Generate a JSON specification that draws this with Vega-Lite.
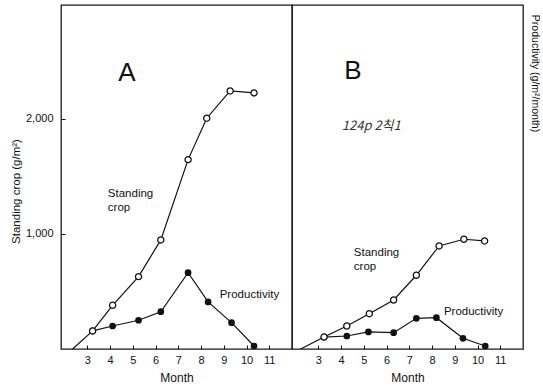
{
  "$schema": "https://vega.github.io/schema/vega-lite/v6.json",
  "padding": {"left": 9, "top": 4, "right": 0, "bottom": 0},
  "background": "white",
  "config": {
    "font": "Liberation Sans",
    "view": {"stroke": "#1a1a1a", "strokeWidth": 1.3},
    "axis": {"grid": false, "domain": false, "labelColor": "#111", "titleColor": "#111", "tickColor": "#111", "labelFont": "Liberation Sans", "titleFont": "Liberation Sans", "titleFontWeight": "normal"}
  },
  "bounds": "flush",
  "spacing": 0,
  "datasets": {
    "series": [
      {"panel": "A", "series": "crop", "month": 2.35, "value": 0},
      {"panel": "A", "series": "crop", "month": 3.23, "value": 157},
      {"panel": "A", "series": "crop", "month": 4.11, "value": 380},
      {"panel": "A", "series": "crop", "month": 5.25, "value": 629},
      {"panel": "A", "series": "crop", "month": 6.23, "value": 948},
      {"panel": "A", "series": "crop", "month": 7.43, "value": 1646},
      {"panel": "A", "series": "crop", "month": 8.25, "value": 2006},
      {"panel": "A", "series": "crop", "month": 9.28, "value": 2243},
      {"panel": "A", "series": "crop", "month": 10.33, "value": 2226},
      {"panel": "A", "series": "prod", "month": 3.23, "value": 157},
      {"panel": "A", "series": "prod", "month": 4.11, "value": 200},
      {"panel": "A", "series": "prod", "month": 5.25, "value": 250},
      {"panel": "A", "series": "prod", "month": 6.23, "value": 324},
      {"panel": "A", "series": "prod", "month": 7.43, "value": 663},
      {"panel": "A", "series": "prod", "month": 8.31, "value": 409},
      {"panel": "A", "series": "prod", "month": 9.34, "value": 229},
      {"panel": "A", "series": "prod", "month": 10.33, "value": 26},
      {"panel": "B", "series": "crop", "month": 2.22, "value": 0},
      {"panel": "B", "series": "crop", "month": 3.25, "value": 104},
      {"panel": "B", "series": "crop", "month": 4.25, "value": 200},
      {"panel": "B", "series": "crop", "month": 5.24, "value": 307},
      {"panel": "B", "series": "crop", "month": 6.31, "value": 426},
      {"panel": "B", "series": "crop", "month": 7.31, "value": 641},
      {"panel": "B", "series": "crop", "month": 8.31, "value": 896},
      {"panel": "B", "series": "crop", "month": 9.4, "value": 954},
      {"panel": "B", "series": "crop", "month": 10.31, "value": 939},
      {"panel": "B", "series": "prod", "month": 3.25, "value": 104},
      {"panel": "B", "series": "prod", "month": 4.25, "value": 113},
      {"panel": "B", "series": "prod", "month": 5.2, "value": 148},
      {"panel": "B", "series": "prod", "month": 6.31, "value": 142},
      {"panel": "B", "series": "prod", "month": 7.31, "value": 267},
      {"panel": "B", "series": "prod", "month": 8.19, "value": 272},
      {"panel": "B", "series": "prod", "month": 9.36, "value": 93},
      {"panel": "B", "series": "prod", "month": 10.34, "value": 26}
    ],
    "labels": [
      {"panel": "A", "kind": "big", "text": "A", "month": 4.74, "value": 2400},
      {"panel": "B", "kind": "big", "text": "B", "month": 4.52, "value": 2417},
      {"panel": "A", "kind": "label", "text": "Standing", "month": 3.9, "value": 1348},
      {"panel": "A", "kind": "label", "text": "crop", "month": 3.9, "value": 1226},
      {"panel": "A", "kind": "label", "text": "Productivity", "month": 8.82, "value": 470},
      {"panel": "B", "kind": "label", "text": "Standing", "month": 4.56, "value": 835},
      {"panel": "B", "kind": "label", "text": "crop", "month": 4.56, "value": 713},
      {"panel": "B", "kind": "label", "text": "Productivity", "month": 8.52, "value": 322},
      {"panel": "B", "kind": "note", "text": "124p 2칙1", "month": 4.03, "value": 1939}
    ]
  },
  "hconcat": [
    {
      "width": 231,
      "height": 344,
      "data": {"name": "series"},
      "transform": [{"filter": "datum.panel === 'A'"}],
      "encoding": {
        "x": {"field": "month", "type": "quantitative", "scale": {"domain": [1.84, 12], "nice": false, "zero": false},
              "axis": {"values": [3, 4, 5, 6, 7, 8, 9, 10, 11], "title": "Month", "offset": -4, "tickSize": 4, "labelPadding": 5, "labelFontSize": 11, "titleFontSize": 12, "titlePadding": 7}},
        "y": {"field": "value", "type": "quantitative", "scale": {"domain": [0, 2990], "nice": false},
              "axis": {"values": [1000, 2000], "format": ",d", "title": "Standing crop (g/m²)", "offset": -4, "tickSize": 4, "labelPadding": 8, "labelFontSize": 11, "titleFontSize": 11.5, "titleX": -49, "titleY": 186, "titleAlign": "center", "titleBaseline": "middle"}}
      },
      "layer": [
        {"mark": {"type": "line", "color": "#111", "strokeWidth": 1.2}, "encoding": {"detail": {"field": "series"}}},
        {"transform": [{"filter": "datum.series === 'prod'"}], "mark": {"type": "point", "shape": "circle", "filled": true, "color": "#111", "size": 45, "opacity": 1}},
        {"transform": [{"filter": "datum.series === 'crop' && datum.value > 0"}], "mark": {"type": "point", "shape": "circle", "filled": true, "fill": "white", "stroke": "#111", "strokeWidth": 1.3, "size": 38, "opacity": 1}},
        {"data": {"name": "labels"}, "transform": [{"filter": "datum.panel === 'A' && datum.kind === 'big'"}], "mark": {"type": "text", "align": "center", "baseline": "middle", "fontSize": 26, "color": "#111"}, "encoding": {"text": {"field": "text"}}},
        {"data": {"name": "labels"}, "transform": [{"filter": "datum.panel === 'A' && datum.kind === 'label'"}], "mark": {"type": "text", "align": "left", "baseline": "middle", "fontSize": 11.5, "color": "#111"}, "encoding": {"text": {"field": "text"}}}
      ]
    },
    {
      "width": 231,
      "height": 344,
      "data": {"name": "series"},
      "transform": [{"filter": "datum.panel === 'B'"}],
      "encoding": {
        "x": {"field": "month", "type": "quantitative", "scale": {"domain": [1.84, 12], "nice": false, "zero": false},
              "axis": {"values": [3, 4, 5, 6, 7, 8, 9, 10, 11], "title": "Month", "offset": -4, "tickSize": 4, "labelPadding": 5, "labelFontSize": 11, "titleFontSize": 12, "titlePadding": 7}},
        "y": {"field": "value", "type": "quantitative", "scale": {"domain": [0, 2990], "nice": false},
              "axis": {"orient": "right", "labels": false, "ticks": false, "title": "Productivity (g/m²/month)", "titleFontSize": 10.5, "titleX": 11, "titleY": 68, "titleAngle": 90, "titleAlign": "center", "titleBaseline": "middle"}}
      },
      "layer": [
        {"mark": {"type": "line", "color": "#111", "strokeWidth": 1.2}, "encoding": {"detail": {"field": "series"}}},
        {"transform": [{"filter": "datum.series === 'prod'"}], "mark": {"type": "point", "shape": "circle", "filled": true, "color": "#111", "size": 45, "opacity": 1}},
        {"transform": [{"filter": "datum.series === 'crop' && datum.value > 0"}], "mark": {"type": "point", "shape": "circle", "filled": true, "fill": "white", "stroke": "#111", "strokeWidth": 1.3, "size": 38, "opacity": 1}},
        {"data": {"name": "labels"}, "transform": [{"filter": "datum.panel === 'B' && datum.kind === 'big'"}], "mark": {"type": "text", "align": "center", "baseline": "middle", "fontSize": 26, "color": "#111"}, "encoding": {"text": {"field": "text"}}},
        {"data": {"name": "labels"}, "transform": [{"filter": "datum.panel === 'B' && datum.kind === 'label'"}], "mark": {"type": "text", "align": "left", "baseline": "middle", "fontSize": 11.5, "color": "#111"}, "encoding": {"text": {"field": "text"}}},
        {"data": {"name": "labels"}, "transform": [{"filter": "datum.panel === 'B' && datum.kind === 'note'"}], "mark": {"type": "text", "align": "left", "baseline": "middle", "fontSize": 13, "fontStyle": "italic", "font": "Noto Sans CJK KR", "color": "#333"}, "encoding": {"text": {"field": "text"}}}
      ]
    }
  ]
}
